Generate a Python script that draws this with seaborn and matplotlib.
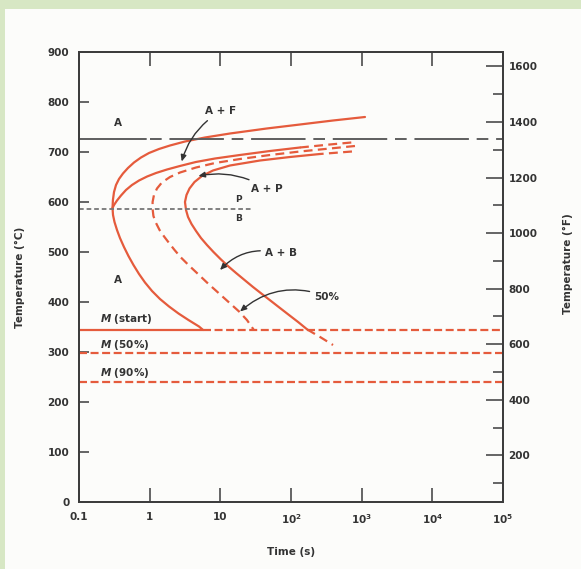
import matplotlib
matplotlib.use("Agg")
import matplotlib.pyplot as plt
import seaborn as sns
from matplotlib.patches import Rectangle
from matplotlib.ticker import FixedLocator, FixedFormatter, NullLocator

# ---------------------------------------------------------------------------
# Isothermal transformation diagram data (time in s, temperature in °C)
# ---------------------------------------------------------------------------
# start of transformation (leftmost solid C-curve), upper branch then lower
start_t = [1114, 393, 134, 45.3, 13.7, 6.07, 3.16, 1.94, 1.355, 0.979, 0.754,
           0.600, 0.493, 0.419, 0.368, 0.334, 0.313, 0.302, 0.298,
           0.303, 0.318, 0.345, 0.380, 0.433, 0.501, 0.590, 0.707, 0.859,
           1.08, 1.40, 1.88, 2.56, 3.54, 4.99, 5.6]
start_T = [770, 763, 755, 747, 737, 729, 721, 713, 706, 698, 689,
           679, 668, 657, 646, 634, 620, 604, 588,
           574, 560, 544, 528, 510, 492, 474, 456, 439,
           422, 406, 391, 377, 364, 351, 345]

# ferrite / pearlite boundary (solid, then uncertain dashed tail)
fp_t = [0.298, 0.313, 0.345, 0.393, 0.462, 0.562, 0.707, 0.920, 1.23, 1.76,
        2.68, 4.50, 8.42, 18.9, 50.4, 134]
fp_T = [588, 594, 603, 613, 624, 634, 643, 651, 658, 665,
        672, 680, 687, 694, 702, 709]
fp_tail_t = [134, 355, 846]
fp_tail_T = [709, 715, 720]

# 50 % transformation (dashed)
half_t = [804, 356, 134, 50.4, 19.0, 8.40, 4.53, 2.69, 1.94, 1.49, 1.27, 1.15,
          1.10, 1.10, 1.13, 1.23, 1.38, 1.60, 1.88, 2.25, 2.77, 3.60, 4.83,
          6.69, 9.27, 13.3, 18.4, 23.8, 29.5]
half_T = [712, 707, 701, 694, 686, 678, 669, 659, 650, 639, 627, 614,
          600, 586, 572, 558, 544, 531, 518, 504, 489, 473, 456,
          437, 419, 399, 381, 364, 345]

# completion of transformation (rightmost solid C-curve)
end_tail_hi_t = [729, 257]
end_tail_hi_T = [701, 696]
end_t = [257, 96.8, 36.4, 13.7, 7.87, 5.50, 4.31, 3.66, 3.32, 3.16, 3.27,
         3.49, 3.91, 4.53, 5.32, 6.47, 8.00, 10.05, 12.8, 16.7, 22.0, 29.0,
         38.8, 52.1, 69.8, 93.7, 126, 170]
end_T = [696, 690, 683, 673, 663, 652, 640, 627, 614, 600, 584,
         570, 556, 542, 528, 514, 500, 486, 472, 458, 444, 430,
         416, 402, 388, 374, 360, 345]
end_tail_lo_t = [170, 265, 393]
end_tail_lo_T = [345, 329, 314]

# reference temperatures
eutectoid_T = 727
pearlite_bainite_T = 586
pb_end_t = 27
m_start_T = 345
m_50_T = 298
m_90_T = 241

x_tick_vals = [0.1, 1, 10, 100, 1000, 1e4, 1e5]
x_tick_labels = ["0.1", "1", "10", r"$\mathbf{10^2}$", r"$\mathbf{10^3}$",
                 r"$\mathbf{10^4}$", r"$\mathbf{10^5}$"]
c_ticks = list(range(0, 1000, 100))
f_major = list(range(200, 1700, 200))
f_minor = list(range(100, 1700, 200))

# ---------------------------------------------------------------------------
sns.set_style("ticks")
plt.rcParams["font.family"] = ["DejaVu Sans"]
plt.rcParams["mathtext.fontset"] = "custom"
plt.rcParams["mathtext.rm"] = "DejaVu Sans:bold"
plt.rcParams["mathtext.bf"] = "DejaVu Sans:bold"
plt.rcParams["mathtext.it"] = "DejaVu Sans:italic:bold"

RED = "#e55b3c"
INK = "#333333"
AXC = "#3c3c3c"
FS = 7.5

fig = plt.figure(figsize=(5.81, 5.69), dpi=100)
fig.patch.set_facecolor("#d7e7c4")
fig.patches.append(Rectangle((5 / 581, 0), 1, 1 - 9 / 569,
                             transform=fig.transFigure, facecolor="#fcfcfa",
                             edgecolor="none", zorder=-5))

ax = fig.add_axes([79 / 581, 1 - 502 / 569, 424 / 581, 450 / 569])
ax.set_facecolor("#fcfcfa")
ax.set_xscale("log")
ax.set_xlim(0.1, 1e5)
ax.set_ylim(0, 900)


def curve(t, T, style="-", color=RED, lw=1.6):
    sns.lineplot(x=t, y=T, sort=False, estimator=None, color=color,
                 linewidth=lw, linestyle=style, ax=ax)


dash = (0, (4, 2.4))
curve(start_t, start_T)
curve(fp_t, fp_T)
curve(fp_tail_t, fp_tail_T, dash)
curve(half_t, half_T, dash)
curve(end_t, end_T)
curve(end_tail_hi_t, end_tail_hi_T, dash)
curve(end_tail_lo_t, end_tail_lo_T, dash)

# martensite lines
mdash = (0, (3.6, 1.6))
curve([0.1, start_t[-1]], [m_start_T, m_start_T])
curve([start_t[-1], 1e5], [m_start_T, m_start_T], mdash)
curve([0.1, 1e5], [m_50_T, m_50_T], mdash)
curve([0.1, 1e5], [m_90_T, m_90_T], mdash)

# eutectoid temperature and pearlite/bainite boundary
curve([0.1, 0.9], [eutectoid_T, eutectoid_T], "-", "#5e5e5e", 1.4)
curve([1.0, 1e5], [eutectoid_T, eutectoid_T], (0, (6, 4, 28, 4)),
      "#5e5e5e", 1.4)
curve([0.1, pb_end_t], [pearlite_bainite_T, pearlite_bainite_T],
      (0, (2.6, 1.6)), "#777777", 1.3)

# region labels
txt = dict(fontsize=FS, fontweight="bold", color=INK, ha="center", va="center")
ax.text(0.36, 758, "A", **txt)
ax.text(0.36, 444, "A", **txt)
ax.text(18, 605, "P", fontsize=6.5, fontweight="bold", color=INK,
        ha="center", va="center")
ax.text(18, 567, "B", fontsize=6.5, fontweight="bold", color=INK,
        ha="center", va="center")
mtxt = dict(fontsize=FS, fontweight="bold", color=INK, ha="left", va="center")
ax.text(0.2, 367, r"$M$ (start)", **mtxt)
ax.text(0.2, 315, r"$M$ (50%)", **mtxt)
ax.text(0.2, 258, r"$M$ (90%)", **mtxt)

arrow = dict(arrowstyle="-|>,head_length=0.5,head_width=0.22", color=INK,
             lw=1.0, shrinkA=1, shrinkB=0)
ax.annotate("A + F", xy=(2.84, 681), xytext=(10, 781), textcoords="data",
            arrowprops=dict(connectionstyle="arc3,rad=0.2", **arrow), **txt)
ax.annotate("A + P", xy=(4.9, 652), xytext=(45, 627), textcoords="data",
            arrowprops=dict(connectionstyle="arc3,rad=0.2", **arrow), **txt)
ax.annotate("A + B", xy=(9.9, 464), xytext=(72, 497), textcoords="data",
            arrowprops=dict(connectionstyle="arc3,rad=0.3", **arrow), **txt)
ax.annotate("50%", xy=(19, 381), xytext=(320, 411), textcoords="data",
            arrowprops=dict(connectionstyle="arc3,rad=0.3", **arrow), **txt)

# axes styling
for s in ax.spines.values():
    s.set_color(AXC)
    s.set_linewidth(1.3)
    s.set_visible(True)

ax.xaxis.set_major_locator(FixedLocator(x_tick_vals))
ax.xaxis.set_major_formatter(FixedFormatter(x_tick_labels))
ax.xaxis.set_minor_locator(NullLocator())
ax.set_yticks(c_ticks)
ax.tick_params(axis="x", which="major", direction="in", top=True, length=10,
               width=1.1, color=AXC, pad=7, labelsize=FS, labelcolor=INK)
ax.tick_params(axis="y", which="major", direction="in", length=7, width=1.1,
               color=AXC, pad=7, labelsize=FS, labelcolor=INK)
for lab in ax.get_xticklabels() + ax.get_yticklabels():
    lab.set_fontweight("bold")

ax.set_xlabel("Time (s)", fontsize=FS, fontweight="bold", color=INK)
ax.xaxis.set_label_coords(0.5, -0.1)
ax.set_ylabel("Temperature (°C)", fontsize=FS, fontweight="bold", color=INK)
ax.yaxis.set_label_coords(-0.127, 0.5)

ax2 = ax.twinx()
ax2.set_ylim(32, 1652)
ax2.yaxis.set_major_locator(FixedLocator(f_major))
ax2.yaxis.set_minor_locator(FixedLocator(f_minor))
ax2.tick_params(axis="y", which="major", direction="in", length=12, width=1.1,
                color=AXC, pad=4, labelsize=FS, labelcolor=INK)
ax2.tick_params(axis="y", which="minor", direction="in", length=7, width=1.1,
                color=AXC)
for lab in ax2.get_yticklabels():
    lab.set_fontweight("bold")
for s in ax2.spines.values():
    s.set_color(AXC)
    s.set_linewidth(1.3)
ax2.set_ylabel("Temperature (°F)", fontsize=FS, fontweight="bold", color=INK,
               rotation=90)
ax2.yaxis.set_label_coords(1.142, 0.53)

fig.savefig("out.png", dpi=100, facecolor=fig.get_facecolor())
